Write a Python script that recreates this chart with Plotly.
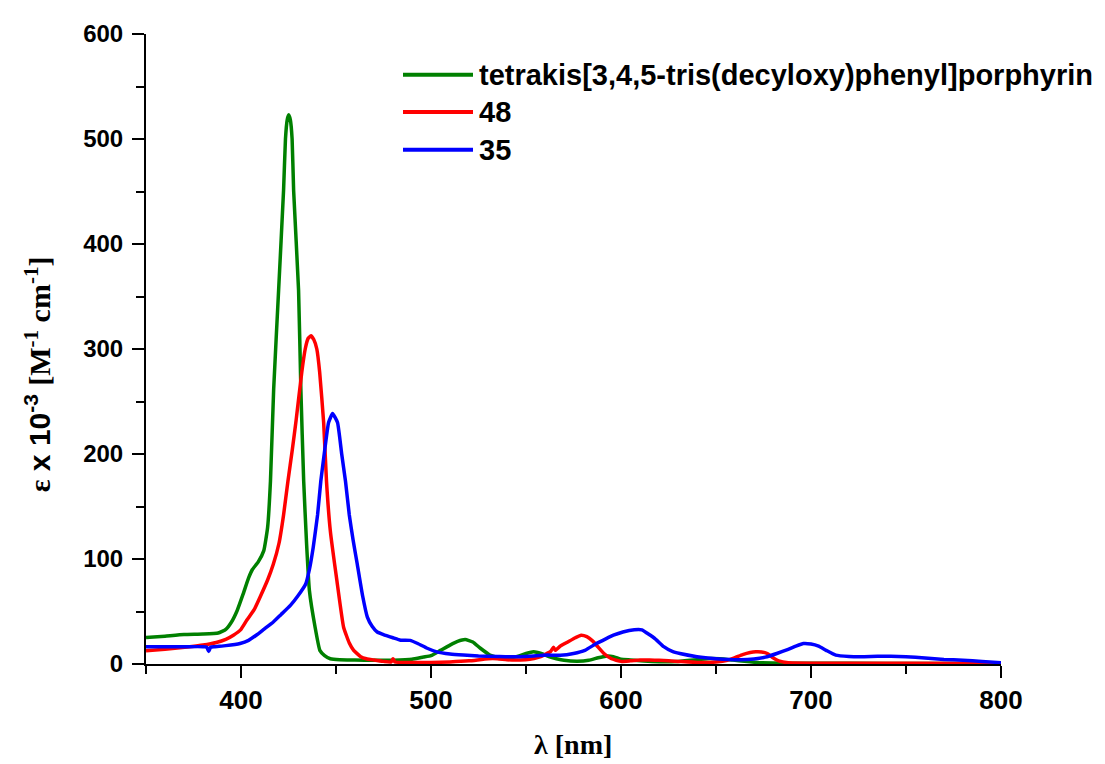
import plotly.graph_objects as go

# ---- data ----
green_wl = [350, 360, 370, 380, 388, 392, 395, 398, 401, 404, 406, 409, 412, 414, 415.5, 417.2,
            419.8, 422.4, 423.4, 424.3, 425.1, 426, 426.9, 427.7, 430.3, 431.5, 433, 434.5, 436,
            439, 441.5, 444, 447, 452, 460, 470, 480, 490, 496, 500, 505, 510, 514, 518, 522,
            526, 531, 536, 540, 545, 550, 554, 558, 562, 566, 570, 577, 583, 588, 592, 596,
            600, 605, 612, 620, 630, 640, 647, 652, 659, 665, 673, 690, 720, 760, 800]
green_val = [25.2, 26.5, 28, 28.5, 29.5, 33, 40, 51, 66, 82, 90, 97, 108, 130, 174, 262,
             356, 451, 500, 518, 523, 518, 500, 451, 356, 262, 174, 115, 70,
             35, 13, 8, 5, 4, 3.8, 3.5, 3.6, 4.5, 6.6, 8, 13, 18, 21.5, 23.3, 21,
             15, 8.5, 6, 5.6, 7, 10, 11.6, 10, 7, 5, 3.5, 2.6, 3.5, 6, 7.5, 7,
             4.5, 3.8, 2.8, 2.2, 2.5, 4, 5.3, 5, 3.7, 2.5, 1.3, 0.8, 0.6, 0.5, 0.4]

red_wl = [350, 360, 373, 380, 387, 392, 396, 400, 403, 407, 410, 414, 417, 420, 422.4, 424.7,
          427, 429, 432, 433.8, 435.3, 436.8, 438.3, 439.9, 441.4, 443.5, 445, 447, 450.5, 454,
          457, 459.3, 463, 466, 470, 475, 479, 480, 481, 485, 490, 500, 510, 520, 530, 535,
          540, 547, 552, 556, 560, 563, 564.5, 565.5, 568, 572, 576, 579, 582, 585, 588, 591,
          595, 600, 605, 610, 615, 620, 630, 640, 650, 656, 660, 664, 668, 671, 674, 677,
          680, 683, 688, 700, 750, 800]
red_val = [12.6, 14, 16.4, 18, 20.5, 23.5, 27.4, 33, 41.6, 52, 63.6, 80, 95, 115, 142, 174,
           204, 232, 278, 300, 310, 312.6, 309, 300, 278, 230, 174, 127, 79, 35,
           20, 13, 7, 5, 3.8, 2.5, 2, 5, 2, 1.5, 1.5, 1.5, 2, 3, 5, 5,
           4, 3.8, 4.5, 6, 9, 12, 16, 13, 17, 21, 25, 27.4, 26, 22, 16, 10,
           5, 2.5, 3, 3.7, 3.9, 3.5, 2.5, 1.5, 2, 3.5, 6, 9, 11, 11.7, 11.5, 10,
           6, 3, 1.2, 0.8, 0.6, 0.5]

blue_wl = [350, 360, 370, 380, 382, 383, 384, 386, 392, 399.5, 404, 408, 412, 417, 421, 426,
           430, 434, 436, 438, 440.3, 442, 443.8, 446.1, 448.2, 450.8, 453, 455, 457, 459, 461.2,
           464, 466.5, 469, 471.7, 475, 480, 484, 489, 493, 498, 503, 510, 517, 525, 535,
           543.5, 552, 561, 568, 575, 581, 587, 592, 596, 601, 607, 611, 614, 618, 622.5,
           627, 631, 640, 650, 657, 663, 670, 676, 682, 688, 692, 696, 700, 704, 708, 713,
           720, 728, 735, 742, 750, 760, 770, 780, 790, 800]
blue_val = [16.4, 16.5, 16.5, 16.5, 16, 12, 16, 16.5, 17.5, 19.5, 22.5, 27.4, 33, 40, 47, 55.8,
            65, 76, 90, 111, 142, 174, 200, 230, 238.5, 230, 200, 174, 142, 118, 95,
            65, 44.7, 36, 30.5, 28, 25, 22.7, 22.5, 19.5, 15, 11.6, 9.5, 8.5, 7.7, 7.2,
            6.9, 7.5, 8.5, 8.3, 10, 13, 19.5, 24, 27.4, 30.5, 32.6, 32.5, 29, 24, 16.5,
            12, 10, 7, 5, 4.2, 4, 4.8, 6.5, 10, 14, 17, 19.5, 19, 17, 13, 8.5,
            7.2, 7, 7.4, 7.3, 7, 5.8, 4.4, 3.5, 2.5, 1.3]

series_names = ["tetrakis[3,4,5-tris(decyloxy)phenyl]porphyrin", "48", "35"]
series_colors = ["#008000", "#ff0000", "#0000ff"]

x_title = "λ [nm]"

# ---- figure ----
fig = go.Figure()
for wl, val, name, col in [(green_wl, green_val, series_names[0], series_colors[0]),
                           (red_wl, red_val, series_names[1], series_colors[1]),
                           (blue_wl, blue_val, series_names[2], series_colors[2])]:
    fig.add_trace(go.Scatter(x=wl, y=val, mode="lines", name=name,
                             line=dict(color=col, width=3.5, shape="spline", smoothing=0.4),
                             showlegend=False))

sans = "Liberation Sans, Arial, sans-serif"
serif = "Liberation Serif, Times New Roman, serif"

# page body has an 8px margin: figure is drawn 8px in from the window's corner
W, H = 1097, 756
L, T = 138, 21
PW, PH = 855, 635


def px_x(px):  # window x pixel -> paper coordinate
    return (px - 8 - L) / PW


def px_y(py):  # window y pixel -> paper coordinate
    return (T + PH - (py - 8)) / PH


# hand-drawn legend (keys + labels)
leg_rows = [70, 107.7, 145.7]
for py, name, col in zip(leg_rows, series_names, series_colors):
    y = px_y(py)
    fig.add_shape(type="line", xref="paper", yref="paper", x0=px_x(403), x1=px_x(473),
                  y0=y, y1=y, line=dict(color=col, width=4))
    fig.add_annotation(xref="paper", yref="paper", x=px_x(477), y=y, text="<b>%s</b>" % name,
                       showarrow=False, xanchor="left", yanchor="middle",
                       font=dict(family=sans, size=29, color="black"))

# axis titles
fig.add_annotation(xref="paper", yref="paper", x=px_x(573), y=px_y(745),
                   text="<b>%s</b>" % x_title,
                   showarrow=False, xanchor="center", yanchor="middle",
                   font=dict(family=serif, size=28, color="black"))
ytitle = ('<b><span style="font-family:Liberation Serif">ε</span> x 10<sup>-3</sup> '
          '<span style="font-family:Liberation Serif">[M<sup>-1</sup> cm<sup>-1</sup>]</span></b>')
fig.add_annotation(xref="paper", yref="paper", x=px_x(38), y=px_y(372), text=ytitle,
                   textangle=-90, showarrow=False, xanchor="center", yanchor="middle",
                   font=dict(family=sans, size=30, color="black"))

fig.update_layout(
    width=W, height=H,
    margin=dict(l=L, r=W - L - PW, t=T, b=H - T - PH),
    paper_bgcolor="white", plot_bgcolor="white",
    showlegend=False,
)
fig.update_xaxes(range=[350, 800], tick0=0, dtick=100, showline=True, linecolor="black",
                 linewidth=2, ticks="outside", ticklen=12, tickwidth=2, tickcolor="black",
                 showgrid=False, zeroline=False,
                 tickfont=dict(family=sans, size=26, color="black", weight="bold"),
                 minor=dict(dtick=50, ticks="outside", ticklen=8, tickwidth=2, tickcolor="black",
                            showgrid=False))
fig.update_yaxes(range=[0, 600], tick0=0, dtick=100, showline=True, linecolor="black",
                 linewidth=2, ticks="outside", ticklen=12, tickwidth=2, tickcolor="black",
                 showgrid=False, zeroline=False, ticklabelstandoff=4,
                 tickfont=dict(family=sans, size=24, color="black", weight="bold"),
                 minor=dict(dtick=50, ticks="outside", ticklen=8, tickwidth=2, tickcolor="black",
                            showgrid=False))

fig.write_html("out.html")
